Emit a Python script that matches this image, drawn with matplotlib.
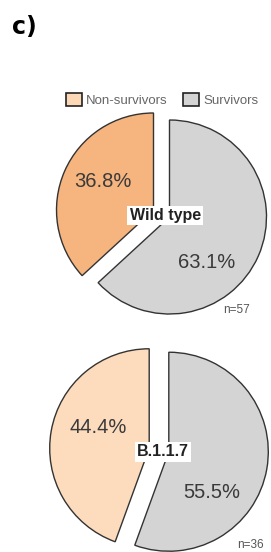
"""
Panel c): outcome split (non-survivors vs survivors) for wild type and B.1.1.7.
Two exploded pies stacked vertically, shared legend on top.
"""

import matplotlib.pyplot as plt
from matplotlib.patches import Patch

plt.rcParams["font.family"] = ["Liberation Sans", "DejaVu Sans"]

# ── Data ──────────────────────────────────────────────────────────────────────
CATEGORIES = ["Non-survivors", "Survivors"]
VARIANTS = ["Wild type", "B.1.1.7"]
WT_PCT = [36.8, 63.1]
B117_PCT = [44.4, 55.5]
WT_LABELS = ["36.8%", "63.1%"]
B117_LABELS = ["44.4%", "55.5%"]
N_TOTAL = [57, 36]

# ── Style ─────────────────────────────────────────────────────────────────────
WT_COLORS = ["#F6B47E", "#D4D4D4"]
B117_COLORS = ["#FCDCBD", "#D4D4D4"]
LEGEND_COLORS = ["#FCD8B6", "#D4D4D4"]
EDGE = "#333333"
TEXT = "#3A3A3A"

W, H = 271, 552


def draw_pie(ax, values, colors, labels, name, n, center, radius, explode,
             pct_pos, n_pos):
    # explode is given as a fraction of the radius; pie wants data units
    ax.pie(values, colors=colors, startangle=90, counterclock=True,
           explode=[explode * radius] * 2, center=center, radius=radius,
           frame=True,
           wedgeprops=dict(edgecolor=EDGE, linewidth=1.0))
    cx, cy = center
    for lab, (dx, dy) in zip(labels, pct_pos):
        ax.text(cx + dx * radius, cy + dy * radius, lab, ha="center",
                va="center", fontsize=14.5, color=TEXT)
    ax.text(cx + 0.04 * radius, cy - 0.02 * radius, name, ha="center",
            va="center", fontsize=11.5, fontweight="bold", color="#222222",
            bbox=dict(boxstyle="square,pad=0.15", fc="white", ec="none"))
    ax.text(cx + n_pos[0] * radius, cy + n_pos[1] * radius, f"n={n}",
            ha="center", va="center", fontsize=8.5, color="#555555")


def plot(out_path: str = "out.png") -> None:
    fig = plt.figure(figsize=(W / 100, H / 100), dpi=100)
    fig.patch.set_facecolor("white")
    ax = fig.add_axes([0, 0, 1, 1])

    # pixel-like data coordinates, y up
    draw_pie(ax, WT_PCT, WT_COLORS, WT_LABELS, VARIANTS[0], N_TOTAL[0],
             center=(161.5, H - 213.5), radius=97, explode=0.09,
             pct_pos=[(-0.60, 0.33), (0.47, -0.51)], n_pos=(0.77, -0.99))
    draw_pie(ax, B117_PCT, B117_COLORS, B117_LABELS, VARIANTS[1], N_TOTAL[1],
             center=(159, H - 450), radius=99.5, explode=0.10,
             pct_pos=[(-0.61, 0.23), (0.53, -0.43)], n_pos=(0.92, -0.95))

    ax.set_xlim(0, W)
    ax.set_ylim(0, H)
    ax.set_aspect("auto")
    ax.axis("off")

    # ── Legend ────────────────────────────────────────────────────────────────
    handles = [Patch(facecolor=c, edgecolor="#222222", linewidth=1.2)
               for c in LEGEND_COLORS]
    leg = fig.legend(handles, CATEGORIES, loc="center",
                     bbox_to_anchor=(162 / W, 1 - 100 / H), ncol=2,
                     frameon=False, fontsize=9.5, handlelength=1.2,
                     handleheight=1.1, handletextpad=0.3, columnspacing=1.2,
                     borderpad=0)
    for t in leg.get_texts():
        t.set_color("#666666")

    # ── Panel tag ─────────────────────────────────────────────────────────────
    fig.text(12 / W, 1 - 27 / H, "c)", ha="left", va="center",
             fontsize=17, fontweight="bold", family="DejaVu Sans")

    fig.savefig(out_path, dpi=100, facecolor="white")


if __name__ == "__main__":
    plot()
